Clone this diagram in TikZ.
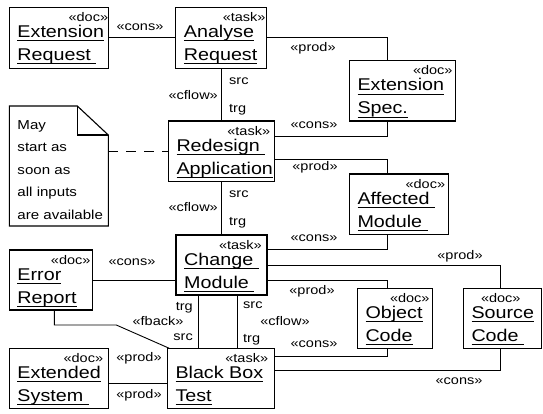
\documentclass[tikz,border=0pt]{standalone}
\usepackage{fontspec}
\setmainfont{Liberation Sans}[FakeStretch=1.16]
\usetikzlibrary{calc}

% underlined object name, rule just under the baseline
\newcommand\ulname[1]{\setbox0\hbox{#1}\rlap{\rule[-3.8bp]{\wd0}{1bp}}\box0}

\tikzset{
  objframe/.style={draw, line width=1.2bp, inner sep=0pt, outer sep=0pt},
  titletext/.style={inner sep=0pt, font=\fontsize{17bp}{23bp}\selectfont},
  stereo/.style={inner sep=0pt, font=\fontsize{12.5bp}{15bp}\selectfont},
  lbl/.style={inner sep=0pt, anchor=base, font=\fontsize{12.5bp}{15bp}\selectfont},
  notetext/.style={inner sep=0pt, anchor=base west, font=\fontsize{13bp}{16bp}\selectfont},
  conn/.style={line width=0.9bp},
}

% name, x, y, width, height, stereotype, stereotype inset, first line, second line
\newcommand\objbox[9]{%
  \node[objframe, minimum width=#4bp, minimum height=#5bp, anchor=north west] (#1) at (#2,#3) {};
  \node[stereo, anchor=base east] (#1-st) at ($(#1.north east)+(-#7,14)$) {#6};
  \node[titletext, anchor=base west] (#1-a) at ($(#1.north west)+(8,30)$) {\ulname{#8}};
  \node[titletext, anchor=base west] (#1-b) at ($(#1.north west)+(8,53)$) {\ulname{#9}};
}

\begin{document}
\begin{tikzpicture}[x=1bp,y=-1bp]
\useasboundingbox (0,0) rectangle (543,413);

% objects
\objbox{er}{9.3}{7.3}{99}{61}{«doc»}{0}{Extension}{Request\ }
\objbox{ar}{175.7}{7.3}{91}{61}{«task»}{1}{Analyse}{Request}
\objbox{es}{349.3}{60.7}{106.4}{60.3}{«doc»}{3}{Extension}{Spec.}
\objbox{rd}{168.3}{121}{106}{60.7}{«task»}{4}{Redesign\ }{Application}
\objbox{am}{349.3}{174}{99}{60.3}{«doc»}{3}{Affected\ }{Module\ }
\objbox{cm}{176}{235}{91}{60}{«task»}{5}{Change\ }{Module\ }
\objbox{rp}{9.3}{250}{83.4}{60}{«doc»}{2}{Error}{Report}
\objbox{oc}{357.3}{288.3}{75.4}{60}{«doc»}{3}{Object}{Code}
\objbox{sc}{463.3}{288.3}{78.4}{60}{«doc»}{21}{Source}{Code\ }
\objbox{bb}{167.3}{348.3}{107}{60}{«task»}{6}{Black Box}{Test}
\objbox{xs}{9.3}{348.3}{99}{60}{«doc»}{5}{Extended}{System\ }

% note with folded corner
\node[inner sep=0pt, outer sep=0pt, minimum width=99bp, minimum height=120bp, anchor=north west] (note) at (9.3,106) {};
\draw[line width=1.1bp] (note.north west) -- ($(note.north east)+(-31,0)$) -- ($(note.north east)+(0,29)$)
  -- (note.south east) -- (note.south west) -- cycle;
\draw[line width=1.1bp] ($(note.north east)+(-31,0)$) -- ($(note.north east)+(-31,29)$) -- ($(note.north east)+(0,29)$);
\node[notetext] (n1) at ($(note.north west)+(8,23)$) {May};
\node[notetext] (n2) at ($(note.north west)+(8,45.5)$) {start as};
\node[notetext] (n3) at ($(note.north west)+(8,68)$) {soon as};
\node[notetext] (n4) at ($(note.north west)+(8,90.5)$) {all inputs};
\node[notetext] (n5) at ($(note.north west)+(8,113)$) {are available};
\draw[conn, dash pattern=on 10bp off 8bp] (rd.west -| note.east) -- (rd.west);

% connectors between objects
\draw[conn] (er.east) -- (ar.west);
\node[lbl] (c1) at (140,30) {«cons»};

\draw[conn] (ar.east) -| ($(es.north west)+(38,0)$);
\node[lbl] (c2) at (313,51) {«prod»};

\draw[conn] ($(es.south west)+(38,0)$) |- ($(rd.north east)+(0,15)$);
\node[lbl] (c3) at (314,128) {«cons»};

\draw[conn] (ar.south) -- (ar.south |- rd.north);
\node[lbl, anchor=base west] (c4s) at (229,84) {src};
\node[lbl, anchor=base west] (c4t) at (229,112) {trg};
\node[lbl, anchor=base east] (c4) at (218,99) {«cflow»};

\draw[conn] ($(rd.north east)+(0,38)$) -| ($(am.north west)+(38,0)$);
\node[lbl] (c5) at (315,170) {«prod»};

\draw[conn] ($(am.south west)+(38,0)$) |- ($(cm.north east)+(0,14)$);
\node[lbl] (c6) at (314,241) {«cons»};

\draw[conn] (rd.south) -- (rd.south |- cm.north);
\node[lbl, anchor=base west] (c7s) at (229,197) {src};
\node[lbl, anchor=base west] (c7t) at (229,225) {trg};
\node[lbl, anchor=base east] (c7) at (218,211) {«cflow»};

\draw[conn] (rp.east) -- (rp.east -| cm.west);
\node[lbl] (c8) at (132,265) {«cons»};

\draw[conn] ($(cm.north east)+(0,30)$) -| ($(sc.north west)+(37,0)$);
\node[lbl] (c9) at (460,259) {«prod»};

\draw[conn] ($(cm.north east)+(0,45)$) -| ($(oc.north west)+(30,0)$);
\node[lbl] (c10) at (312,294) {«prod»};

\draw[conn] ($(oc.south west)+(30,0)$) |- ($(bb.north east)+(0,8)$);
\node[lbl] (c11) at (314,347) {«cons»};

\draw[conn] ($(sc.south west)+(37,0)$) |- ($(bb.north east)+(0,22)$);
\node[lbl] (c12) at (459,384) {«cons»};

\coordinate (fb) at ($(cm.south west)+(22,0)$);
\draw[conn] (fb) -- (fb |- bb.north);
\node[lbl, anchor=base east] (c13t) at (193,310) {trg};
\node[lbl, anchor=base east] (c13s) at (193,340) {src};
\node[lbl] (c13) at (158,325) {«fback»};

\coordinate (cf) at ($(cm.south west)+(61,0)$);
\draw[conn] (cf) -- (cf |- bb.north);
\node[lbl, anchor=base west] (c14s) at (243,308) {src};
\node[lbl, anchor=base west] (c14t) at (243,342) {trg};
\node[lbl] (c14) at (285,325) {«cflow»};

\draw[conn] ($(rp.south west)+(45,0)$) -- ++(0,15) -- ++(62,0) -- ($(bb.north west)+(2,0)$);

\draw[conn] ($(xs.north east)+(0,35)$) -- ($(bb.north west)+(0,35)$);
\node[lbl] (c15a) at (139,361) {«prod»};
\node[lbl] (c15b) at (139,398) {«prod»};

\end{tikzpicture}
\end{document}
